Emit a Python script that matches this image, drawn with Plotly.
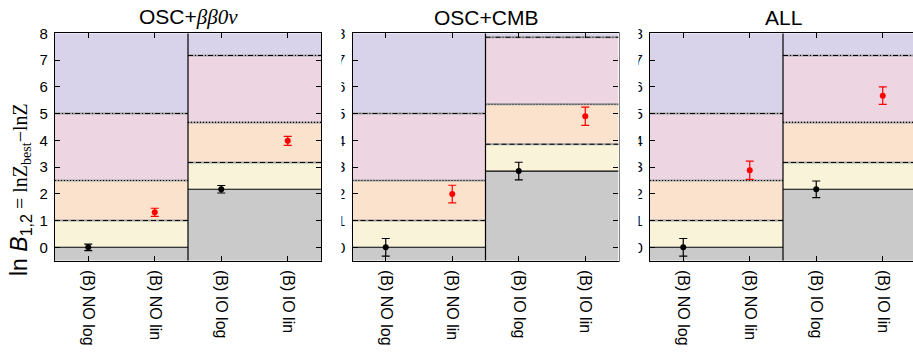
import plotly.graph_objects as go

# ---------------- data ----------------
categories = ["(B) NO log", "(B) NO lin", "(B) IO log", "(B) IO lin"]
panel_titles = [
    "OSC+<span style=\"font-family:'Liberation Serif'\"><i>ββ0ν</i></span>",
    "OSC+CMB",
    "ALL",
]
lnB_osc_bb = [0.0, 1.31, 2.17, 3.98]
err_osc_bb = [0.12, 0.15, 0.14, 0.17]
lnB_osc_cmb = [0.0, 1.99, 2.85, 4.90]
err_osc_cmb = [0.33, 0.33, 0.33, 0.34]
lnB_all = [0.0, 2.88, 2.17, 5.67]
err_all = [0.33, 0.34, 0.31, 0.33]
point_colors = ["black", "red", "black", "red"]
jeffreys = [0, 1, 2.5, 5]
y_ticks = [0, 1, 2, 3, 4, 5, 6, 7, 8]
y_min, y_max = -0.5, 8

panels_vals = [lnB_osc_bb, lnB_osc_cmb, lnB_all]
panels_errs = [err_osc_bb, err_osc_cmb, err_all]

band_colors = ["#cacaca", "#f9f3da", "#fbe2cd", "#edd5e2", "#d8d3ea"]
line_dash = ["solid", "5px,3px", "1px,2px", "5px,2px,1px,2px"]

# ---------------- layout geometry ----------------
W, H = 913, 352
dom_px = [(55, 321), (352.5, 618.5), (650, 913)]
x_unit = 66.5
top_px, bot_px = 33.3, 260.7

fig = go.Figure()
shapes = []
annotations = []

for p in range(3):
    sfx = "" if p == 0 else str(p + 1)
    xref, yref = "x" + sfx, "y" + sfx
    vals, errs = panels_vals[p], panels_errs[p]
    x0p, x1p = dom_px[p]
    xr_max = -0.5 + (x1p - x0p) / x_unit

    # halves: NO (ref = NO log), IO (ref = IO log)
    halves = [(-0.5, 1.5, vals[0]), (1.5, 3.5, vals[2])]
    for hx0, hx1, ref in halves:
        edges = [y_min] + [ref + j for j in jeffreys] + [y_max]
        for k in range(5):
            lo, hi = edges[k], min(edges[k + 1], y_max)
            if hi <= lo:
                continue
            shapes.append(dict(type="rect", xref=xref, yref=yref, x0=hx0, x1=hx1,
                               y0=lo, y1=hi, fillcolor=band_colors[k],
                               line=dict(width=0), layer="below"))
        for j, jv in enumerate(jeffreys):
            yv = ref + jv
            if yv >= y_max:
                continue
            if j > 0:
                shapes.append(dict(type="line", xref=xref, yref=yref, x0=hx0, x1=hx1,
                                   y0=yv, y1=yv, line=dict(color="#a0a0a0", width=2),
                                   layer="below"))
            shapes.append(dict(type="line", xref=xref, yref=yref, x0=hx0, x1=hx1,
                               y0=yv, y1=yv,
                               line=dict(color="black", width=1.1, dash=line_dash[j]),
                               layer="below"))
    # divider
    shapes.append(dict(type="line", xref=xref, yref=yref, x0=1.5, x1=1.5,
                       y0=y_min, y1=y_max, line=dict(color="black", width=1.2),
                       layer="below"))

    for i in range(4):
        fig.add_trace(go.Scatter(
            x=[i], y=[vals[i]], mode="markers",
            marker=dict(color=point_colors[i], size=6),
            error_y=dict(type="data", array=[errs[i]], color=point_colors[i],
                         thickness=1.2, width=4),
            xaxis=xref, yaxis=yref, showlegend=False, cliponaxis=False))

    xa = dict(domain=[x0p / W, min(x1p / W, 1.0)], range=[-0.5, xr_max],
              tickvals=list(range(4)), ticktext=categories, tickangle=90,
              ticks="inside", ticklen=5, tickcolor="black", tickwidth=1,
              showline=True, linecolor="black", linewidth=1.2, mirror="allticks",
              showgrid=False, zeroline=False, anchor=yref, automargin=False,
              tickfont=dict(family="Liberation Sans", size=16, color="black"),
              ticklabelstandoff=5)
    ya = dict(domain=[1 - bot_px / H, 1 - top_px / H], range=[y_min, y_max],
              tickvals=y_ticks, ticks="inside", ticklen=5, tickcolor="black",
              tickwidth=1, showline=True, linecolor="black", linewidth=1.2,
              mirror="allticks" if p < 2 else False,
              showgrid=False, zeroline=False, anchor=xref, automargin=False,
              tickfont=dict(family="Liberation Sans", size=15, color="black"),
              ticklabelstandoff=3)
    fig.layout["xaxis" + sfx] = xa
    fig.layout["yaxis" + sfx] = ya

    cx = (x0p + x0p + 266) / 2 / W
    annotations.append(dict(text=panel_titles[p], x=cx, y=1 - 17 / H, xref="paper",
                            yref="paper", showarrow=False, xanchor="center",
                            yanchor="middle",
                            font=dict(family="Liberation Sans", size=21, color="black")))

# white masks partially covering tick labels of panels 2 and 3 (as in reference)
for mx0, mx1 in [(322.5, 341.5), (619.5, 638.5)]:
    shapes.append(dict(type="rect", xref="paper", yref="paper", x0=mx0 / W, x1=mx1 / W,
                       y0=1 - 270 / H, y1=1 - 25 / H, fillcolor="white",
                       line=dict(width=0), layer="above"))

ytitle = ("ln <i>B</i><sub>1,2</sub>"
          "<span style=\"font-family:'Liberation Serif';font-size:20px\"> = lnZ<sub>best</sub>−lnZ</span>")
annotations.append(dict(text=ytitle, x=20 / W, y=1 - 190 / H, xref="paper", yref="paper",
                        showarrow=False, textangle=-90, xanchor="center", yanchor="middle",
                        font=dict(family="Liberation Sans", size=23, color="black")))

fig.update_layout(width=W, height=H, margin=dict(l=0, r=0, t=0, b=0, autoexpand=False),
                  paper_bgcolor="white", plot_bgcolor="white",
                  shapes=shapes, annotations=annotations)

fig.write_html("out.html", config={"displayModeBar": False},
               post_script="document.body.style.margin='0px';document.body.style.overflow='hidden';")
